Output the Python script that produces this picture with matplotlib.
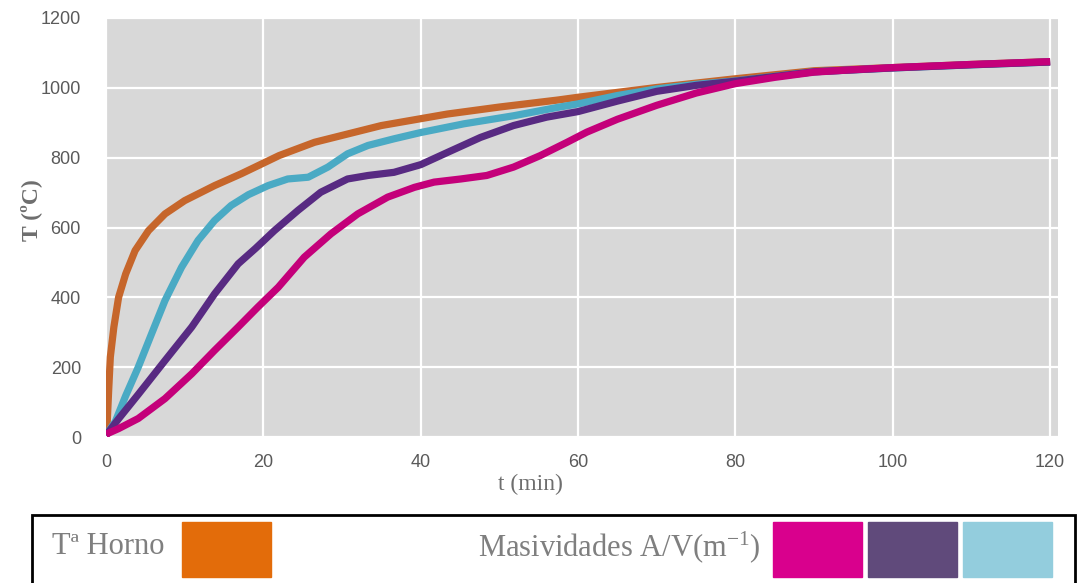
import matplotlib
matplotlib.use("Agg")
import matplotlib.pyplot as plt
from matplotlib.patches import Rectangle

plt.rcParams.update({
    "font.family": ["Liberation Sans", "DejaVu Sans"],
    "mathtext.fontset": "custom",
    "mathtext.rm": "Liberation Serif",
    "mathtext.it": "Liberation Serif",
})

# furnace temperature (Tª Horno)
t_horno = [0, 0.13, 0.34, 0.55, 1.0, 1.6, 2.5, 3.7, 5.4, 7.5, 10, 13.8, 17.2,
           22, 26.5, 35, 43.4, 50, 57.4, 60, 70, 80, 90, 100, 110, 120]
T_horno = [10, 29, 134, 229, 315, 400, 467, 534, 591, 639, 677, 720, 754, 806,
           844, 892, 925, 945, 965, 973, 1001, 1026, 1049, 1058, 1067, 1075]

# section factors A/V, highest to lowest
t_cyan = [0, 1.2, 2.5, 4.1, 5.8, 7.5, 9.6, 11.7, 13.8, 15.9, 18.1, 20.6, 23.1,
          25.7, 28.2, 30.7, 33.3, 36.6, 40, 45.5, 51.8, 57.4, 60, 65, 70, 75,
          80, 90, 100, 110, 120]
T_cyan = [5, 45, 118, 200, 296, 391, 486, 563, 620, 663, 694, 720, 739, 744,
          773, 811, 835, 854, 872, 897, 920, 944, 954, 978, 997, 1010, 1020,
          1046, 1057, 1066, 1074]

t_purple = [0, 1.6, 4.1, 7.5, 10.9, 13.8, 16.8, 19, 21.4, 24.4, 27.3, 30.7,
            33.3, 36.6, 40, 43.4, 47.6, 51.8, 56, 60, 65, 70, 75, 80, 90, 100,
            110, 120]
T_purple = [5, 52, 122, 219, 315, 410, 496, 540, 591, 649, 701, 739, 749, 758,
            780, 815, 858, 892, 916, 932, 962, 990, 1007, 1019, 1046, 1057,
            1066, 1074]

t_magenta = [0, 1.6, 4.1, 7.5, 10.9, 13.8, 16.8, 19.3, 21.9, 25.2, 28.6, 32,
             35.8, 39.2, 41.7, 45.1, 48.4, 51.8, 55.2, 58.6, 61.1, 65, 70, 75,
             80, 85, 90, 95, 100, 110, 120]
T_magenta = [8, 24, 53, 110, 181, 248, 315, 372, 429, 515, 582, 639, 687, 715,
             730, 739, 749, 773, 806, 844, 873, 910, 950, 985, 1012, 1030, 1045,
             1052, 1058, 1067, 1075]

x_ticks = [0, 20, 40, 60, 80, 100, 120]
y_ticks = [0, 200, 400, 600, 800, 1000, 1200]

W, H = 1078, 583
fig = plt.figure(figsize=(W / 100, H / 100), dpi=100)
ax = fig.add_axes([106 / W, 1 - 437 / H, 952 / W, 419 / H])
ax.set_facecolor("#d8d8d8")

style = dict(lw=5.2, solid_capstyle="butt", solid_joinstyle="round")
ax.plot(t_horno, T_horno, color="#c6662b", **style)
ax.plot(t_cyan, T_cyan, color="#4aaac4", **style)
ax.plot(t_purple, T_purple, color="#582a82", **style)
ax.plot(t_magenta, T_magenta, color="#c4007a", **style)

ax.set_xlim(0, 121)
ax.set_ylim(0, 1200)
ax.set_xticks(x_ticks)
ax.set_yticks(y_ticks)
ax.grid(True, color="white", lw=1.6)
ax.set_axisbelow(True)
for s in ax.spines.values():
    s.set_visible(False)
ax.tick_params(length=0, labelsize=13, labelcolor="#5a5a5a")
ax.tick_params(axis="y", pad=18)
ax.tick_params(axis="x", pad=12)

ax.set_xlabel("t (min)", family="Liberation Serif", fontsize=17,
              color="#6e6e6e")
ax.xaxis.set_label_coords((530 - 106) / 952, -(474 - 437) / 419)
ax.set_ylabel("T (ºC)", family="Liberation Serif", fontsize=17,
              color="#6e6e6e", fontweight="bold")
ax.yaxis.set_label_coords(-(106 - 42) / 952, (437 - 210) / 419)

# legend box at the bottom
fig.patches.append(Rectangle((32 / W, -0.05), (1075 - 32) / W, (583 - 515) / H + 0.05,
                             transform=fig.transFigure, fill=False,
                             ec="black", lw=2))
yb, hb = 1 - 577 / H, 55 / H
swatches = [(182, "#e36c0a"), (773, "#d9008d"), (868, "#604a7b"), (963, "#93cddd")]
for x0, c in swatches:
    fig.patches.append(Rectangle((x0 / W, yb), 89 / W, hb,
                                 transform=fig.transFigure, color=c))
fig.text(52 / W, 1 - 547 / H, "Tª Horno", family="Liberation Serif",
         fontsize=22, color="#7f7f7f", va="center")
fig.text(478 / W, 1 - 547 / H, r"Masividades A/V(m$^{\mathrm{-1}}$)",
         family="Liberation Serif", fontsize=22, color="#7f7f7f", va="center")

fig.savefig("out.png", dpi=100)
